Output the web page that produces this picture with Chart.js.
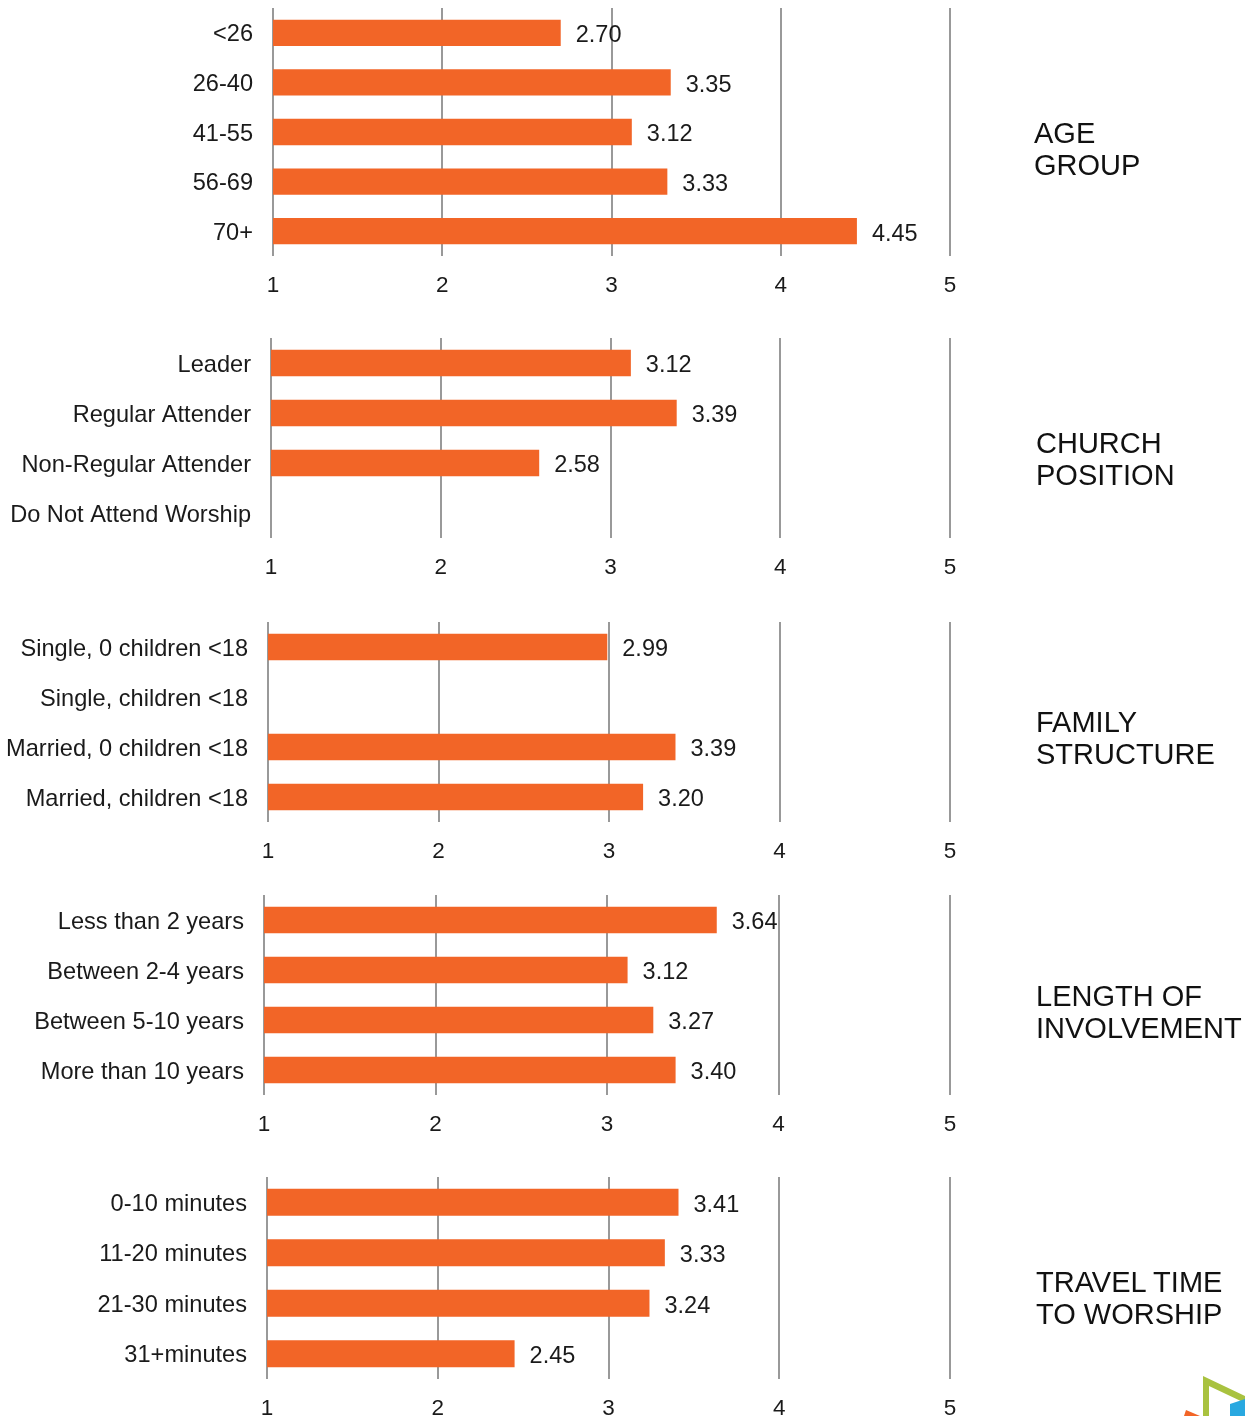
<!DOCTYPE html>
<html>
<head>
<meta charset="utf-8">
<script src="https://cdn.jsdelivr.net/npm/chart.js@4/dist/chart.umd.min.js"></script>
<style>
  body { margin:0; width:1245px; height:1416px; background:#fff; position:relative; overflow:hidden; font-family:"Liberation Sans", Arial, sans-serif; }
  .box { position:absolute; left:0; }
  .box canvas { display:block; }
  .sect { position:absolute; font-size:29px; line-height:32px; color:#111; }
  #logo { position:absolute; left:1170px; top:1360px; }
</style>
</head>
<body>

<script>
// survey scores (1-5) by group
let ageLabels = ['<26', '26-40', '41-55', '56-69', '70+'];
let ageValues = [2.70, 3.35, 3.12, 3.33, 4.45];

let positionLabels = ['Leader', 'Regular Attender', 'Non-Regular Attender', 'Do Not Attend Worship'];
let positionValues = [3.12, 3.39, 2.58, null];

let familyLabels = ['Single, 0 children <18', 'Single, children <18', 'Married, 0 children <18', 'Married, children <18'];
let familyValues = [2.99, null, 3.39, 3.20];

let lengthLabels = ['Less than 2 years', 'Between 2-4 years', 'Between 5-10 years', 'More than 10 years'];
let lengthValues = [3.64, 3.12, 3.27, 3.40];

let travelLabels = ['0-10 minutes', '11-20 minutes', '21-30 minutes', '31+minutes'];
let travelValues = [3.41, 3.33, 3.24, 2.45];

let scaleTicks = [1, 2, 3, 4, 5];

let sections = [
  { title: ['AGE', 'GROUP'], labels: ageLabels, values: ageValues, top: 8, h: 248, left: 273, tx: 1034, ty: 117 },
  { title: ['CHURCH', 'POSITION'], labels: positionLabels, values: positionValues, top: 338, h: 200, left: 271, tx: 1036, ty: 427 },
  { title: ['FAMILY', 'STRUCTURE'], labels: familyLabels, values: familyValues, top: 622, h: 200, left: 268, tx: 1036, ty: 706 },
  { title: ['LENGTH OF', 'INVOLVEMENT'], labels: lengthLabels, values: lengthValues, top: 895, h: 200, left: 264, tx: 1036, ty: 980 },
  { title: ['TRAVEL TIME', 'TO WORSHIP'], labels: travelLabels, values: travelValues, top: 1177, h: 202, left: 267, tx: 1036, ty: 1266 }
];

const FONT = '"Liberation Sans", Arial, sans-serif';
const padTop = 8, axisH = 45;

// writes the score just past the end of each bar
const valueLabels = {
  id: 'valueLabels',
  afterDatasetsDraw(chart) {
    let ctx = chart.ctx;
    let meta = chart.getDatasetMeta(0);
    ctx.save();
    ctx.font = '23.5px ' + FONT;
    ctx.fillStyle = '#1a1a1a';
    ctx.textAlign = 'left';
    ctx.textBaseline = 'middle';
    meta.data.forEach((bar, i) => {
      let v = chart.data.datasets[0].data[i];
      if (v == null) return;
      ctx.fillText(v.toFixed(2), bar.x + 15, bar.y + 3);
    });
    ctx.restore();
  }
};

sections.forEach(s => {
  let div = document.createElement('div');
  div.className = 'box';
  div.style.top = (s.top - padTop) + 'px';
  let cv = document.createElement('canvas');
  cv.width = 1245;
  cv.height = padTop + s.h + axisH;
  div.appendChild(cv);
  document.body.appendChild(div);

  let t = document.createElement('div');
  t.className = 'sect';
  t.style.left = s.tx + 'px';
  t.style.top = s.ty + 'px';
  t.innerHTML = s.title.join('<br>');
  document.body.appendChild(t);

  new Chart(cv.getContext('2d'), {
    type: 'bar',
    data: {
      labels: s.labels,
      datasets: [{
        data: s.values,
        backgroundColor: '#F26527',
        borderWidth: 0,
        barPercentage: 0.53,
        categoryPercentage: 1
      }]
    },
    options: {
      indexAxis: 'y',
      responsive: false,
      animation: false,
      layout: { padding: { top: padTop, right: 1245 - 950, left: 0, bottom: 0 } },
      plugins: { legend: { display: false }, tooltip: { enabled: false } },
      scales: {
        x: {
          min: 1,
          max: 5,
          afterBuildTicks: sc => { sc.ticks = scaleTicks.map(v => ({ value: v })); },
          afterFit: sc => { sc.height = axisH; },
          grid: { color: '#999', lineWidth: 2, drawTicks: false },
          border: { display: false },
          ticks: { padding: 16, color: '#1a1a1a', font: { family: FONT, size: 22.5 } }
        },
        y: {
          // fixed label column; drop the label-height padding so the plot starts at padTop
          afterFit: sc => { sc.width = s.left; sc.paddingTop = 0; sc.paddingBottom = 0; },
          grid: { display: false, drawTicks: false },
          border: { display: false },
          ticks: { padding: 20, labelOffset: 2, color: '#1a1a1a', font: { family: FONT, size: 23.6 } }
        }
      }
    },
    plugins: [valueLabels]
  });
});
</script>

<svg id="logo" width="75" height="56" viewBox="0 0 75 56">
  <polygon points="16,50 30,56 14,56" fill="#F26527"/>
  <polygon points="33,16 75,36 75,43 39,26 39,56 33,56" fill="#A9C23F"/>
  <polygon points="60,44 75,39 75,56 60,56" fill="#29A8E0"/>
</svg>

</body>
</html>
